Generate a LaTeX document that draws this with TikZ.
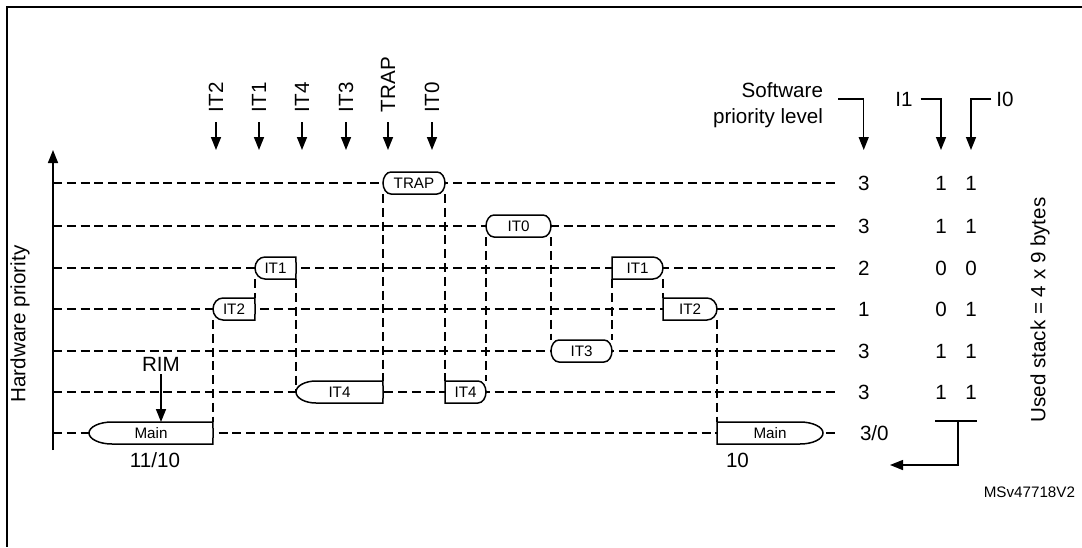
\documentclass[tikz,border=0pt]{standalone}
\usepackage{fontspec}
\setmainfont{Liberation Sans}
\usetikzlibrary{arrows.meta,positioning}
\pgfdeclarelayer{grid}
\pgfdeclarelayer{shapes}
\pgfsetlayers{grid,shapes,main}

% outline of a process box: node, left bulge, right bulge
\newcommand{\procoutline}[3]{%
  \draw[fill=white,line width=0.75pt] ([xshift=#2]#1.north west)
    arc[start angle=90,end angle=270,x radius=#2,y radius=5.5pt]
    -- ([xshift=-#3]#1.south east)
    arc[start angle=-90,end angle=90,x radius=#3,y radius=5.5pt] -- cycle;}

\begin{document}
\begin{tikzpicture}[x=0.5pt,y=-0.5pt,>={Triangle[length=6.5pt,width=5pt]}]
        \fontsize{10.3pt}{13pt}\selectfont
        \tikzstyle{proc}=[inner sep=0pt,outer sep=0pt,minimum height=11pt,font=\fontsize{7.6pt}{9pt}\selectfont]
        \tikzstyle{level}=[dash pattern=on 4.5pt off 2.4pt,line width=0.65pt]
        \tikzstyle{arr}=[->,line width=0.75pt]
        \tikzstyle{txt}=[inner sep=0pt,outer sep=0pt]
        \useasboundingbox (0,0) rectangle (1082,547);
        \draw[line width=1.1pt] (1082,7) -| (7,547);

        % axis
        \coordinate (ax0) at (53,450);
        \coordinate (axtop) at (53,150);
        \draw[arr] (ax0) -- (axtop);
        \node[txt,rotate=90] (hwprio) at (20,324) {Hardware priority};

        % process boxes
        \node[proc,minimum width=62pt]   (mainA)   at (151,433)   {Main};
        \node[proc,minimum width=21pt]   (itTwoA)  at (234,309)   {IT2};
        \node[proc,minimum width=20.5pt] (itOneA)  at (275.5,268) {IT1};
        \node[proc,minimum width=43.5pt] (itFourA) at (339.5,392) {IT4};
        \node[proc,minimum width=31pt]   (trap)    at (414,183)   {TRAP};
        \node[proc,minimum width=20.5pt] (itFourB) at (465.5,392) {IT4};
        \node[proc,minimum width=32.5pt] (itZero)  at (518.5,226) {IT0};
        \node[proc,minimum width=30.5pt] (itThree) at (581.5,351) {IT3};
        \node[proc,minimum width=25.5pt] (itOneB)  at (637.5,268) {IT1};
        \node[proc,minimum width=27pt]   (itTwoB)  at (690,309)   {IT2};
        \node[proc,minimum width=53pt]   (mainB)   at (770,433)   {Main};

        \begin{pgfonlayer}{shapes}
        \foreach \n/\l/\r in {mainA/11.5pt/0.01pt, itTwoA/5pt/0.01pt, itOneA/5pt/0.01pt,
            itFourA/10pt/0.01pt, trap/4pt/4pt, itFourB/0.01pt/4pt, itZero/4pt/4pt,
            itThree/4pt/4pt, itOneB/0.01pt/5pt, itTwoB/0.01pt/5pt, mainB/0.01pt/11.5pt}
            {\procoutline{\n}{\l}{\r}}
        \end{pgfonlayer}

        % interrupt requests
        \foreach \x/\t/\n in {216/IT2/evTwo, 259/IT1/evOne, 302/IT4/evFour,
            346/IT3/evThree, 388/TRAP/evTrap, 432/IT0/evZero} {
            \node[txt,rotate=90,anchor=west] (\n) at (\x,112) {\t};
            \draw[arr] ([yshift=-5pt]\n.west) -- (\n.west |- axtop);
        }

        \node[txt] (rim) at (161,364) {RIM};
        \draw[arr] ([yshift=-1.5pt]rim.south) -- (rim.south |- mainA.north);
        \node[txt,below=4.5pt of mainA,xshift=2pt] (retA) {11/10};
        \node[txt,below right=4.5pt and 4.5pt of mainB.south west] (retB) {10};

        % right hand table
        \foreach \y/\s/\a/\b/\n in {183/3/1/1/6, 226/3/1/1/5, 268/2/0/0/4,
            309/1/0/1/3, 351/3/1/1/2, 392/3/1/1/1} {
            \node[txt,anchor=west] (sw\n) at (858,\y) {\s};
            \node[txt] (ione\n) at (941,\y) {\a};
            \node[txt] (izero\n) at (971,\y) {\b};
            \begin{pgfonlayer}{grid}
            \draw[level] (ax0 |- sw\n) -- ([xshift=-10pt]sw\n.west);
            \end{pgfonlayer}
        }
        \node[txt,anchor=west] (sw0) at (860,433) {3/0};
        \begin{pgfonlayer}{grid}
        \draw[level] (ax0 |- mainA) -- ([xshift=-11pt]sw0.west |- mainA);
        \path[level]
            (itTwoA.south west) edge (mainA.north east)
            (itOneA.south west) edge (itTwoA.north east)
            (itOneA.south east) edge (itFourA.west)
            (trap.south west)   edge (itFourA.north east)
            (trap.south east)   edge (itFourB.north west)
            (itZero.south west) edge (itFourB.north east)
            (itZero.south east) edge (itThree.north west)
            (itOneB.south west) edge (itThree.north east)
            (itOneB.south east) edge (itTwoB.north west)
            (itTwoB.south east) edge (mainB.north west);
        \end{pgfonlayer}

        \node[txt,align=right,anchor=east] (swlabel) at (823,105) {Software\\priority level};
        \draw[arr] ([xshift=7.5pt,yshift=3pt]swlabel.east) -| (sw6 |- axtop);
        \node[txt] (ione) at (904,99) {I1};
        \draw[arr] ([xshift=4pt]ione.east) -| (ione6 |- axtop);
        \node[txt] (izero) at (1005,99) {I0};
        \draw[arr] ([xshift=-2.5pt]izero.west) -| (izero6 |- axtop);

        \coordinate (stk) at (958,421);
        \coordinate (ret) at (890,465);
        \draw[line width=0.75pt] (ione1.west |- stk) -- (izero1.east |- stk);
        \draw[arr] (stk) |- (ret);

        \node[txt,rotate=90] (stack) at (1040,310) {Used stack = 4 x 9 bytes};
        \node[txt,anchor=east,font=\fontsize{7.6pt}{9pt}\selectfont] (figid) at (1075,492) {MSv47718V2};
\end{tikzpicture}
\end{document}
